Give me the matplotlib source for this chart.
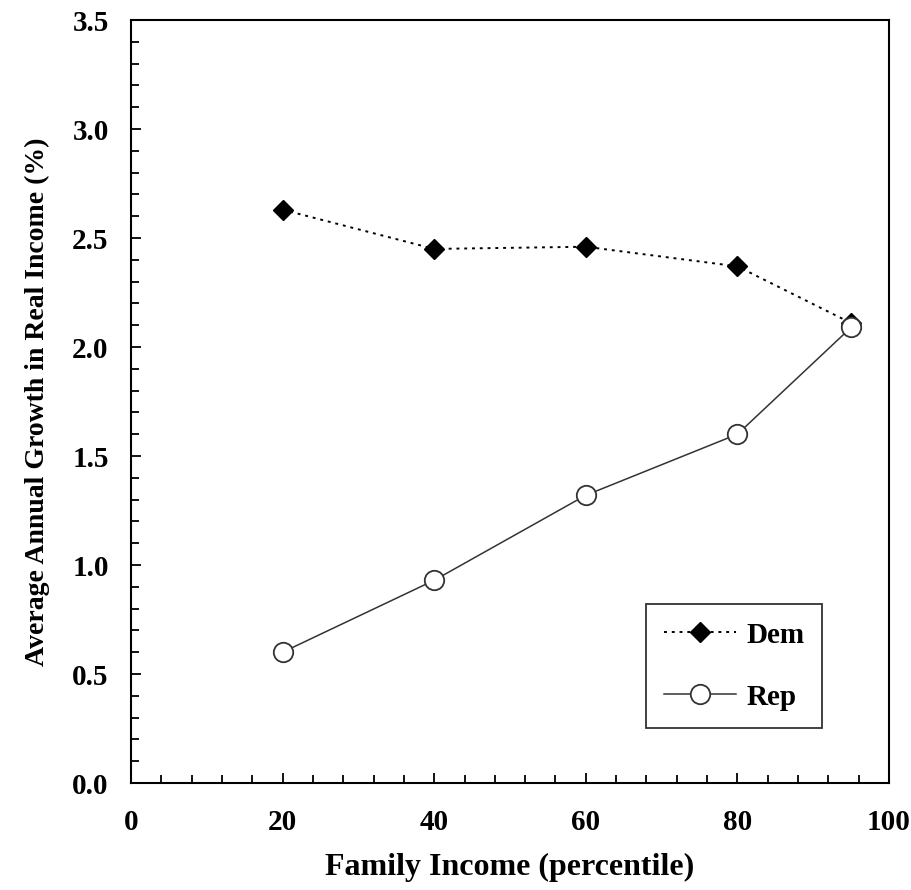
import matplotlib
matplotlib.use('Agg')
import matplotlib.pyplot as plt
from matplotlib.ticker import MultipleLocator, FormatStrFormatter

percentile = [20, 40, 60, 80, 95]
dem = [2.63, 2.45, 2.46, 2.37, 2.11]
rep = [0.60, 0.93, 1.32, 1.60, 2.09]

plt.rcParams['font.family'] = ['Liberation Serif', 'DejaVu Serif']
plt.rcParams['font.weight'] = 'bold'

fig = plt.figure(figsize=(9.12, 8.90), dpi=100)
ax = fig.add_axes([0.1436, 0.1202, 0.8312, 0.8573])

# Dem: dotted line, filled diamonds
ax.plot(percentile, dem, color='black', linestyle=(0, (1.5, 2.5)), linewidth=1.4,
        marker='D', markersize=10, markerfacecolor='black', markeredgecolor='black', label='Dem')
# Rep: solid line, open circles
ax.plot(percentile, rep, color='#333333', linestyle='-', linewidth=1.1,
        marker='o', markersize=14, markerfacecolor='white', markeredgecolor='#333333',
        markeredgewidth=1.3, label='Rep')

ax.set_xlim(0, 100)
ax.set_ylim(0, 3.5)
ax.xaxis.set_major_locator(MultipleLocator(20))
ax.xaxis.set_minor_locator(MultipleLocator(4))
ax.yaxis.set_major_locator(MultipleLocator(0.5))
ax.yaxis.set_minor_locator(MultipleLocator(0.1))
ax.yaxis.set_major_formatter(FormatStrFormatter('%.1f'))
ax.tick_params(which='both', direction='in', top=False, right=False, width=1.3)
ax.tick_params(which='major', length=7, labelsize=21)
ax.tick_params(axis='y', which='major', pad=16)
ax.tick_params(axis='x', which='major', pad=19)
ax.tick_params(which='minor', length=5.5)
for s in ax.spines.values():
    s.set_linewidth(1.5)

ax.set_xlabel('Family Income (percentile)', fontsize=23, fontweight='bold', labelpad=12)
ax.set_ylabel('Average Annual Growth in Real Income (%)', fontsize=20, fontweight='bold', labelpad=16)

leg = ax.legend(loc='lower right', bbox_to_anchor=(0.912, 0.072), fontsize=21,
                frameon=True, fancybox=False, edgecolor='black', handlelength=2.5,
                borderpad=0.6, labelspacing=1.2, handletextpad=0.35, borderaxespad=0)
leg.get_frame().set_linewidth(1.3)

fig.savefig('out.png', dpi=100)
